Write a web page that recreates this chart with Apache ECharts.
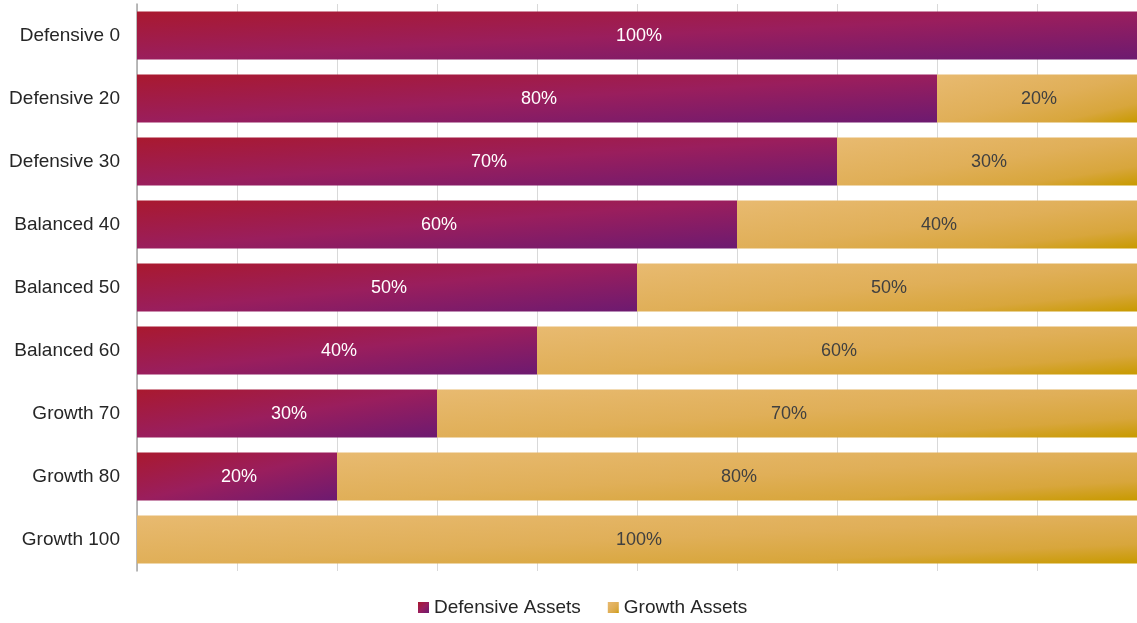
<!DOCTYPE html>
<html>
<head>
<meta charset="utf-8">
<script src="https://cdn.jsdelivr.net/npm/echarts@6/dist/echarts.min.js"></script>
<style>
  html, body { margin: 0; padding: 0; background: #ffffff; }
  #chart { width: 1137px; height: 623px; }
</style>
</head>
<body>
<div id="chart"></div>
<script>
// Portfolio options and their asset split (percent)
const categories = ['Defensive 0', 'Defensive 20', 'Defensive 30', 'Balanced 40', 'Balanced 50',
  'Balanced 60', 'Growth 70', 'Growth 80', 'Growth 100'];
const defensiveAssets = [100, 80, 70, 60, 50, 40, 30, 20, 0];
const growthAssets = [0, 20, 30, 40, 50, 60, 70, 80, 100];
const seriesNames = ['Defensive Assets', 'Growth Assets'];

const font = "'Liberation Sans', Arial, sans-serif";

const defensiveStops = [
  { offset: 0, color: '#a9192f' },
  { offset: 0.5, color: '#9a1e5d' },
  { offset: 1, color: '#6d1a70' }
];
const growthStops = [
  { offset: 0, color: '#e8ba70' },
  { offset: 0.5, color: '#e0af58' },
  { offset: 0.8, color: '#d8a63c' },
  { offset: 1, color: '#c89a00' }
];

// Layout constants used to shape each bar's fill
const GRID = { left: 137, right: 0, top: 4, bottom: 52 };
const PLOT_W = 1137 - GRID.left - GRID.right;
const BAR_H = 48;

// Diagonal fill that scales with the bar: colour follows (u + v) / 2
// in the bar's own normalised box, so every bar shades corner to corner.
function shapeGradient(valuePct, stops) {
  const w = Math.max(1, PLOT_W * valuePct / 100);
  const h = BAR_H;
  const a = 2 / (1 / (w * w) + 1 / (h * h));
  return new echarts.graphic.LinearGradient(0, 0, a / (w * w), a / (h * h), stops);
}

const toItems = (values, stops) =>
  values.map((v) => ({ value: v, itemStyle: { color: shapeGradient(v, stops) } }));

const pctLabel = (color) => ({
  show: true,
  position: 'inside',
  offset: [2, 1],
  color: color,
  fontFamily: font,
  fontSize: 18,
  formatter: (p) => (p.value > 0 ? p.value + '%' : '')
});

const chart = echarts.init(document.getElementById('chart'), null, { renderer: 'canvas' });
chart.setOption({
  animation: false,
  grid: { left: GRID.left, right: GRID.right, top: GRID.top, bottom: GRID.bottom, containLabel: false },
  legend: {
    bottom: 1,
    left: 413,
    icon: 'rect',
    itemWidth: 11,
    itemHeight: 11,
    itemGap: 27,
    textStyle: { fontFamily: font, fontSize: 19, color: '#262626' },
    data: seriesNames
  },
  xAxis: {
    type: 'value',
    min: 0,
    max: 100,
    interval: 10,
    axisLine: { show: false },
    axisTick: { show: false },
    axisLabel: { show: false },
    splitLine: { show: true, lineStyle: { color: '#d9d9d9', width: 1 } }
  },
  yAxis: {
    type: 'category',
    inverse: true,
    data: categories,
    axisLine: { show: true, lineStyle: { color: '#a6a6a6', width: 1.5 } },
    axisTick: { show: false },
    axisLabel: { margin: 17, fontFamily: font, fontSize: 19, color: '#262626' }
  },
  series: [
    {
      name: seriesNames[0],
      type: 'bar',
      stack: 'mix',
      barCategoryGap: '24%',
      data: toItems(defensiveAssets, defensiveStops),
      itemStyle: { color: new echarts.graphic.LinearGradient(0, 0, 1, 1, defensiveStops) },
      label: pctLabel('#ffffff')
    },
    {
      name: seriesNames[1],
      type: 'bar',
      stack: 'mix',
      barCategoryGap: '24%',
      data: toItems(growthAssets, growthStops),
      itemStyle: { color: new echarts.graphic.LinearGradient(0, 0, 1, 1, growthStops) },
      label: pctLabel('#404040')
    }
  ]
});
</script>
</body>
</html>
